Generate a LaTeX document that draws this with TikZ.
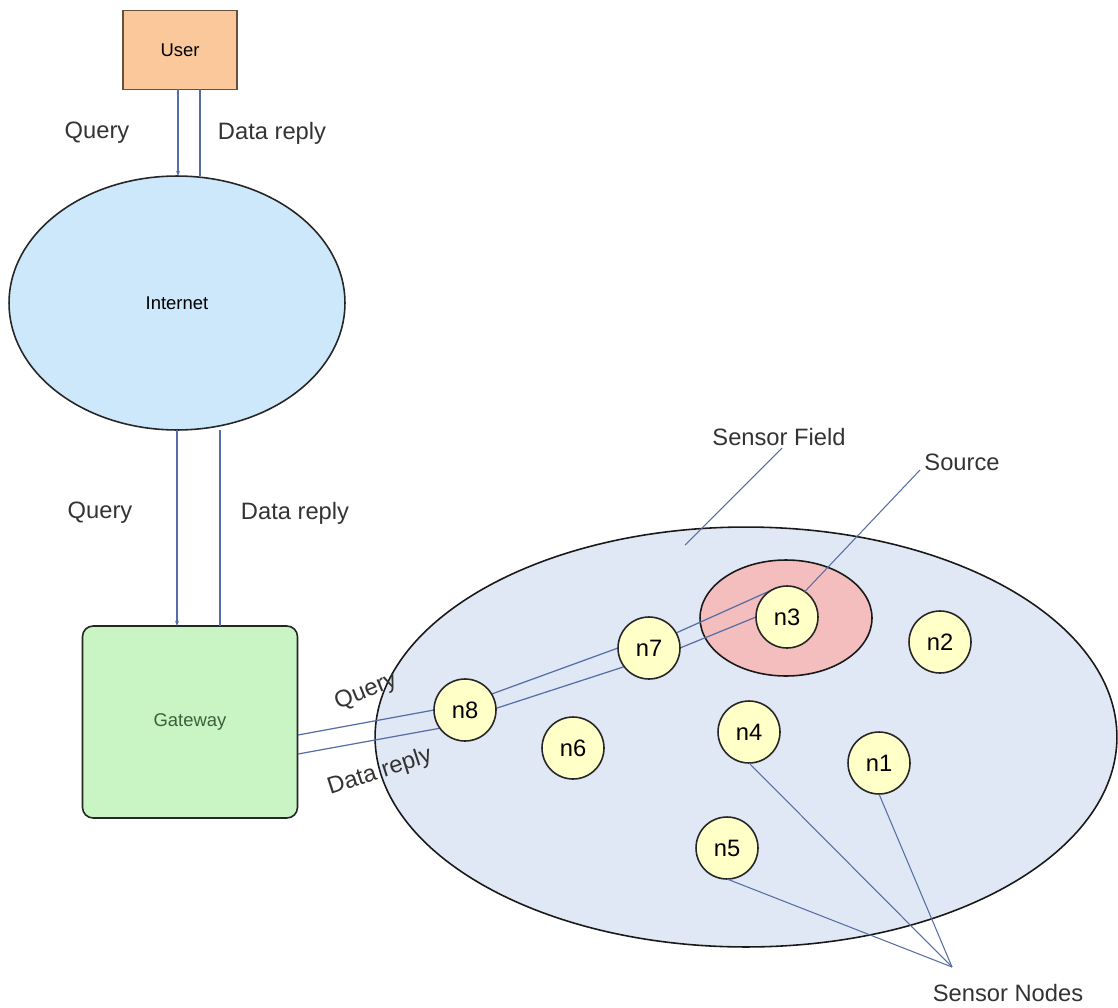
\documentclass[tikz,border=0pt]{standalone}
\usepackage{fontspec}
\setmainfont{Liberation Sans}
\usetikzlibrary{shapes.geometric,arrows.meta,calc}
\definecolor{linkblue}{RGB}{85,110,165}
\definecolor{userfill}{RGB}{250,200,155}
\definecolor{userdraw}{RGB}{105,80,60}
\definecolor{netfill}{RGB}{205,232,250}
\definecolor{gwfill}{RGB}{200,245,195}
\definecolor{gwtext}{RGB}{60,95,60}
\definecolor{fieldfill}{RGB}{225,232,245}
\definecolor{srcfill}{RGB}{245,190,190}
\definecolor{sensfill}{RGB}{255,255,200}
\tikzset{
  lbl/.style={font=\fontsize{13.5}{16}\selectfont, text=black!80},
  boxlbl/.style={font=\fontsize{10.5}{12}\selectfont},
  link/.style={draw=linkblue, line width=0.7pt},
  sensor/.style={circle, draw=black!85, line width=0.9pt, fill=sensfill,
    minimum size=1.24cm, inner sep=0pt, outer sep=0pt, font=\fontsize{13.5}{16}\selectfont}
}

\begin{document}
\begin{tikzpicture}[x=0.02cm, y=-0.02cm]
\useasboundingbox (0,0) rectangle (1118,1007);

% upper part
\node[draw=userdraw, line width=1pt, fill=userfill, minimum width=2.28cm, minimum height=1.58cm,
  inner sep=0pt, outer sep=0pt, boxlbl] (user) at (180,50) {User};
\node[ellipse, draw=black!85, line width=0.9pt, fill=netfill, minimum width=6.72cm, minimum height=5.08cm,
  inner sep=0pt, outer sep=0pt, boxlbl] (internet) at (177,303) {Internet};
\node[draw=black!85, line width=0.9pt, fill=gwfill, rounded corners=6pt, minimum width=4.3cm, minimum height=3.84cm,
  inner sep=0pt, outer sep=0pt, boxlbl, text=gwtext] (gateway) at (190,722) {Gateway};

\draw[link, -{Stealth[length=3pt]}] (178,89) coordinate (uq) -- (uq |- internet.north);
\draw[link] (200,89) coordinate (ud) -- (ud |- internet.north);
\node[lbl] (q1) at (97,133) {Query};
\node[lbl] (d1) at (272,133) {Data reply};

\draw[link, -{Stealth[length=3pt]}] (177,430) coordinate (iq) -- (iq |- gateway.north);
\draw[link] (220,430) coordinate (id) -- (id |- gateway.north);
\node[lbl] (q2) at (100,513) {Query};
\node[lbl] (d2) at (295,513) {Data reply};

% sensor field
\node[ellipse, draw=black!90, line width=0.9pt, fill=fieldfill, minimum width=14.84cm, minimum height=8.4cm,
  inner sep=0pt, outer sep=0pt] (field) at (746,737) {};
\node[ellipse, draw=black!90, line width=0.9pt, fill=srcfill, minimum width=3.44cm, minimum height=2.32cm,
  inner sep=0pt, outer sep=0pt] (source) at (786,618) {};

% query / data reply path
\coordinate (gq) at (298,735);
\coordinate (gd) at (298,754);
\coordinate (n8c) at (465,710);
\coordinate (n7c) at (649,648);
\coordinate (n3c) at (787,617);
\draw[link] (gq) -- ($(n8c)+(180:0.62cm)$);
\draw[link] (gd) -- ($(n8c)+(216:0.62cm)$);
\draw[link] ($(n8c)+(31:0.62cm)$) -- ($(n7c)+(180:0.62cm)$);
\draw[link] ($(n8c)+(3:0.62cm)$) -- ($(n7c)+(217:0.62cm)$);
\draw[link] ($(n7c)+(29:0.62cm)$) -- ($(n3c)+(108:0.62cm)$);
\draw[link] ($(n7c)+(0:0.62cm)$) -- ($(n3c)+(180:0.62cm)$);

\node[lbl, rotate=22] (q3) at (366,692) {Query};
\node[lbl, rotate=18] (d3) at (380,772) {Data reply};

\node[sensor] (n1) at (879,763) {n1};
\node[sensor] (n2) at (940,642) {n2};
\node[sensor] (n3) at (n3c) {n3};
\node[sensor] (n4) at (749,732) {n4};
\node[sensor] (n5) at (727,848) {n5};
\node[sensor] (n6) at (573,748) {n6};
\node[sensor] (n7) at (n7c) {n7};
\node[sensor] (n8) at (n8c) {n8};

% callouts
\node[lbl] (fieldlbl) at (779,437) {Sensor Field};
\node[lbl] (srclbl) at (962,462) {Source};
\node[lbl] (nodeslbl) at (1008,993) {Sensor Nodes};
\coordinate (hub) at (952,967);

\draw[link, line width=0.6pt] (782,448) -- (685,545);
\draw[link, line width=0.6pt] (920,470) -- (n3.55);
\draw[link, line width=0.6pt] (n5.south) -- (hub);
\draw[link, line width=0.6pt] (n4.south) -- (hub);
\draw[link, line width=0.6pt] (n1.south) -- (hub);
\end{tikzpicture}
\end{document}
